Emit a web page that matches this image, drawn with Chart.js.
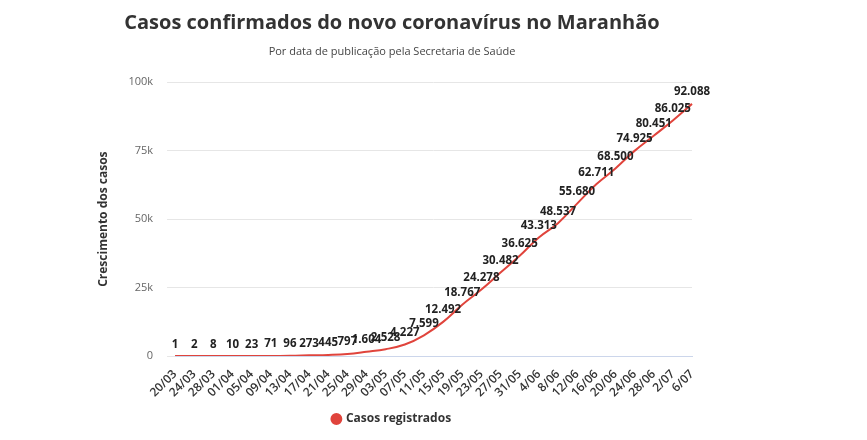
<!DOCTYPE html>
<html><head><meta charset="utf-8">
<script src="https://cdn.jsdelivr.net/npm/chart.js@4"></script>
<style>body{margin:0;background:#fff}#wrap{width:867px;height:440px}</style>
</head><body><div id="wrap"><canvas id="c"></canvas></div>
<script>
const dates = ['20/03','24/03','28/03','01/04','05/04','09/04','13/04','17/04','21/04','25/04','29/04','03/05','07/05','11/05','15/05','19/05','23/05','27/05','31/05','4/06','8/06','12/06','16/06','20/06','24/06','28/06','2/07','6/07'];
const cases = [1,2,8,10,23,71,96,273,445,797,1604,2528,4227,7599,12492,18767,24278,30482,36625,43313,48537,55680,62711,68500,74925,80451,86025,92088];
const yTicks = [0,25000,50000,75000,100000];

const fmt = v => v.toLocaleString('de-DE');

const labelPlugin = {
  id: 'pointLabels',
  afterDatasetsDraw(chart) {
    const ctx = chart.ctx;
    const meta = chart.getDatasetMeta(0);
    ctx.save();
    ctx.font = 'bold 11.5px "Open Sans"';
    ctx.fillStyle = '#222';
    ctx.textAlign = 'center';
    ctx.textBaseline = 'bottom';
    meta.data.forEach((p, i) => {
      ctx.fillText(fmt(cases[i]), p.x, p.y - 6);
    });
    ctx.restore();
  }
};

new Chart(document.getElementById('c'), {
  type: 'line',
  data: {
    labels: dates,
    datasets: [{
      label: 'Casos registrados',
      data: cases,
      borderColor: '#e0443c',
      backgroundColor: '#e0443c',
      borderWidth: 2,
      pointRadius: 0,
      tension: 0.4
    }]
  },
  options: {
    responsive: true,
    maintainAspectRatio: false,
    animation: false,
    layout: { padding: { left: 92, right: 175, top: 5, bottom: 5 } },
    plugins: {
      title: { display: true, text: 'Casos confirmados do novo coronavírus no Maranhão',
        color: '#333', font: { family: 'Open Sans', size: 20, weight: 'bold' }, padding: { top: 6, bottom: 10 } },
      subtitle: { display: true, text: 'Por data de publicação pela Secretaria de Saúde',
        color: '#444', font: { family: 'Open Sans', size: 11 }, padding: { bottom: 24 } },
      legend: { position: 'bottom',
        labels: { usePointStyle: true, pointStyle: 'circle', boxWidth: 7, boxHeight: 7, color: '#333',
          font: { family: 'Open Sans', size: 12, weight: 'bold' }, padding: 10 } },
      tooltip: { enabled: false }
    },
    scales: {
      x: {
        grid: { display: false },
        border: { color: '#ccd6eb' },
        ticks: { maxRotation: 45, minRotation: 45, autoSkip: false, color: '#333',
          font: { family: 'Open Sans', size: 12, weight: '600' } }
      },
      y: {
        min: 0, max: 100000,
        afterBuildTicks: ax => { ax.ticks = yTicks.map(v => ({ value: v })); },
        grid: { color: '#e6e6e6' },
        border: { display: false },
        ticks: { color: '#666', font: { family: 'Open Sans', size: 11 }, padding: 14,
          callback: v => v === 0 ? '0' : (v / 1000) + 'k' },
        title: { display: true, text: 'Crescimento dos casos', color: '#333',
          font: { family: 'Open Sans', size: 12, weight: 'bold' } }
      }
    }
  },
  plugins: [labelPlugin]
});
</script></body></html>
